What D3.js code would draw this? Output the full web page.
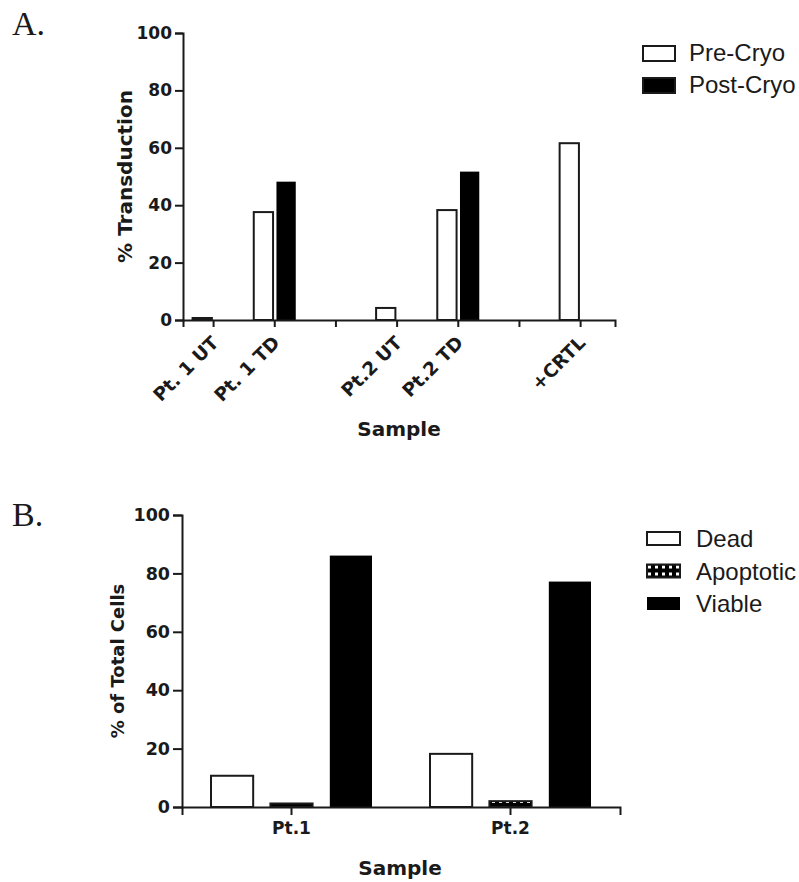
<!DOCTYPE html>
<html>
<head>
<meta charset="utf-8">
<script src="https://cdn.jsdelivr.net/npm/d3@7"></script>
<style>
  html, body { margin: 0; padding: 0; background: #fff; }
  svg { display: block; }
  .tick text { fill: #1a1a1a; }
</style>
</head>
<body>
<svg id="fig" width="799" height="882"></svg>
<script>
// ---- Panel A: % transduction before and after cryopreservation ----
const samplesA = ["Pt. 1 UT", "Pt. 1 TD", "", "Pt.2 UT", "Pt.2 TD", "", "+CRTL"];
const seriesA = ["Pre-Cryo", "Post-Cryo"];
const preCryo  = [0.7, 37.6, null, 4.2, 38.3, null, 61.6];
const postCryo = [0,   48.2, null, 0,   51.7, null, null];
const ticksA = [0, 20, 40, 60, 80, 100];

// ---- Panel B: cell viability after thaw ----
const samplesB = ["Pt.1", "Pt.2"];
const seriesB = ["Dead", "Apoptotic", "Viable"];
const dead      = [10.7, 18.2];
const apoptotic = [1.2, 2.0];
const viable    = [86.1, 77.2];
const ticksB = [0, 20, 40, 60, 80, 100];

const svg = d3.select("#fig");
const ink = "#1a1a1a";
const tickFont = "'DejaVu Sans', sans-serif";
const legendFont = "'Liberation Sans', Arial, sans-serif";

// hatched fill used for apoptotic cells
const defs = svg.append("defs");
const pat = defs.append("pattern")
  .attr("id", "apopt").attr("patternUnits", "userSpaceOnUse")
  .attr("width", 7).attr("height", 7);
pat.append("rect").attr("width", 7).attr("height", 7).attr("fill", "#000");
pat.append("rect").attr("x", 2).attr("y", 2).attr("width", 3).attr("height", 3).attr("fill", "#fff");

function styleAxis(g) {
  g.selectAll(".domain").attr("stroke", ink).attr("stroke-width", 2);
  g.selectAll(".tick line").attr("stroke", ink).attr("stroke-width", 2);
  g.selectAll(".tick text")
    .attr("font-family", tickFont).attr("font-weight", "bold")
    .attr("font-size", 17);
}

// ================= Panel A =================
const yA = d3.scaleLinear().domain([0, 100]).range([320, 33]);
const xA = d3.scaleBand().domain(d3.range(samplesA.length))
  .range([183, 615]).paddingInner(0).paddingOuter(0.031).align(0);
const x1A = d3.scaleBand().domain(seriesA).range([-21, 21]).paddingInner(0.15);

const fillA = {"Pre-Cryo": "#fff", "Post-Cryo": "#000"};
const valsA = {"Pre-Cryo": preCryo, "Post-Cryo": postCryo};

const barsA = svg.append("g");
seriesA.forEach(s => {
  const rows = valsA[s].map((v, i) => ({i, v})).filter(d => d.v !== null);
  barsA.selectAll(null).data(rows).join("rect")
    .attr("x", d => xA(d.i) + xA.bandwidth() / 2 + x1A(s))
    .attr("width", x1A.bandwidth())
    .attr("y", d => yA(d.v))
    .attr("height", d => yA(0) - yA(d.v))
    .attr("fill", fillA[s])
    .attr("stroke", s === "Pre-Cryo" ? ink : "none")
    .attr("stroke-width", 2);
});

const yAxisA = svg.append("g").attr("transform", `translate(183,0)`)
  .call(d3.axisLeft(yA).tickValues(ticksA).tickSize(8).tickPadding(3));
styleAxis(yAxisA);

const xAxisA = svg.append("g").attr("transform", `translate(0,320)`)
  .call(d3.axisBottom(xA).tickSize(7).tickFormat(i => samplesA[i]));
styleAxis(xAxisA);
xAxisA.selectAll(".tick text")
  .attr("font-size", 18.5)
  .attr("text-anchor", "end")
  .attr("y", 0).attr("dy", 0)
  .attr("transform", "translate(6,24) rotate(-45)");

svg.append("text")
  .attr("transform", `translate(132,${(yA(0) + yA(100)) / 2}) rotate(-90)`)
  .attr("text-anchor", "middle")
  .attr("font-family", tickFont).attr("font-weight", "bold").attr("font-size", 20)
  .attr("fill", ink).text("% Transduction");

svg.append("text")
  .attr("x", 399).attr("y", 436).attr("text-anchor", "middle")
  .attr("font-family", tickFont).attr("font-weight", "bold").attr("font-size", 20)
  .attr("fill", ink).text("Sample");

svg.append("text").attr("x", 12).attr("y", 35)
  .attr("font-family", "'Liberation Serif', 'Times New Roman', serif")
  .attr("font-size", 34).attr("fill", ink).text("A.");

const legA = svg.append("g").attr("transform", "translate(642,45)");
seriesA.forEach((s, k) => {
  const row = legA.append("g").attr("transform", `translate(0,${k * 32})`);
  row.append("rect").attr("x", 1).attr("y", 1).attr("width", 32).attr("height", 15)
    .attr("fill", fillA[s]).attr("stroke", ink).attr("stroke-width", 2);
  row.append("text").attr("x", 47).attr("y", 16)
    .attr("font-family", legendFont).attr("font-size", 24).attr("fill", ink).text(s);
});

// ================= Panel B =================
const yB = d3.scaleLinear().domain([0, 100]).range([807, 515]);
const xB = d3.scaleBand().domain(samplesB).range([182, 620]);
const x1B = d3.scaleBand().domain(seriesB).range([-80.5, 80.5]).paddingInner(0.29);

const fillB = {"Dead": "#fff", "Apoptotic": "url(#apopt)", "Viable": "#000"};
const valsB = {"Dead": dead, "Apoptotic": apoptotic, "Viable": viable};

const barsB = svg.append("g");
seriesB.forEach(s => {
  const rows = valsB[s].map((v, i) => ({c: samplesB[i], v}));
  barsB.selectAll(null).data(rows).join("rect")
    .attr("x", d => xB(d.c) + xB.bandwidth() / 2 + x1B(s))
    .attr("width", x1B.bandwidth())
    .attr("y", d => yB(d.v))
    .attr("height", d => yB(0) - yB(d.v))
    .attr("fill", fillB[s])
    .attr("stroke", s === "Viable" ? "none" : ink)
    .attr("stroke-width", 2);
});

const yAxisB = svg.append("g").attr("transform", `translate(182,0)`)
  .call(d3.axisLeft(yB).tickValues(ticksB).tickSize(9).tickPadding(3));
styleAxis(yAxisB);
yAxisB.selectAll(".tick text").attr("font-size", 17.5);

const xAxisB = svg.append("g").attr("transform", `translate(0,807)`)
  .call(d3.axisBottom(xB).tickSize(8).tickPadding(7));
styleAxis(xAxisB);

svg.append("text")
  .attr("transform", `translate(124,${(yB(0) + yB(100)) / 2}) rotate(-90)`)
  .attr("text-anchor", "middle")
  .attr("font-family", tickFont).attr("font-weight", "bold").attr("font-size", 18)
  .attr("fill", ink).text("% of Total Cells");

svg.append("text")
  .attr("x", 400).attr("y", 875).attr("text-anchor", "middle")
  .attr("font-family", tickFont).attr("font-weight", "bold").attr("font-size", 20)
  .attr("fill", ink).text("Sample");

svg.append("text").attr("x", 12).attr("y", 526)
  .attr("font-family", "'Liberation Serif', 'Times New Roman', serif")
  .attr("font-size", 34).attr("fill", ink).text("B.");

const legB = svg.append("g").attr("transform", "translate(646,531)");
seriesB.forEach((s, k) => {
  const row = legB.append("g").attr("transform", `translate(0,${k * 32.5})`);
  row.append("rect").attr("x", 1).attr("y", 1).attr("width", 33).attr("height", 13)
    .attr("fill", fillB[s]).attr("stroke", s === "Viable" ? "none" : ink)
    .attr("stroke-width", 2);
  row.append("text").attr("x", 50).attr("y", 16)
    .attr("font-family", legendFont).attr("font-size", 24).attr("fill", ink).text(s);
});
</script>
</body>
</html>
